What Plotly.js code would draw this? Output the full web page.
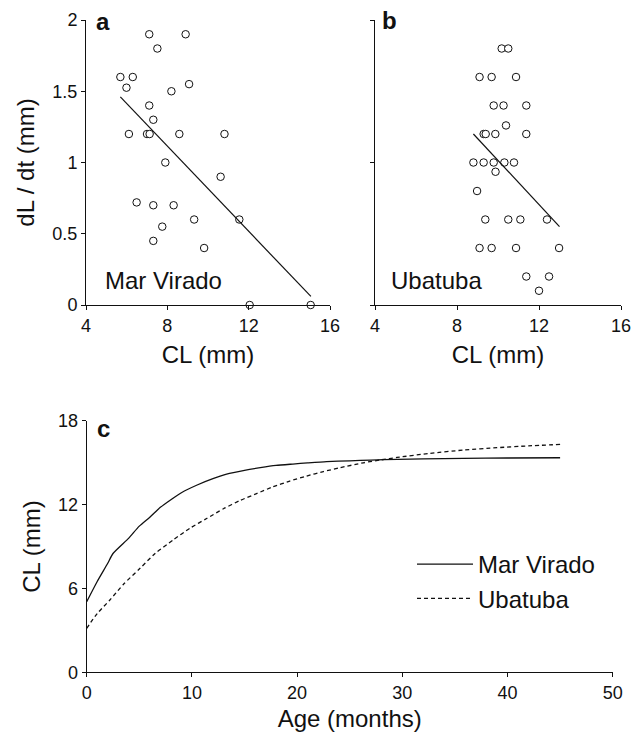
<!DOCTYPE html>
<html>
<head>
<meta charset="utf-8">
<script src="https://cdn.plot.ly/plotly-3.0.1.min.js"></script>
<style>html,body{margin:0;padding:0;background:#fff;}#chart{width:631px;height:736px;}</style>
</head>
<body>
<div id="chart"></div>
<script>
// Panel a: Mar Virado growth increments
const mvCL = [7.11, 8.90, 7.51, 5.69, 6.30, 5.99, 9.07, 8.20, 7.11, 7.31, 6.11, 7.00, 7.13, 8.59, 10.81, 7.90, 10.62, 6.49, 7.31, 8.31, 9.32, 11.54, 7.75, 7.31, 9.81, 12.05, 15.05];
const mvdLdt = [1.90, 1.90, 1.80, 1.60, 1.60, 1.525, 1.55, 1.50, 1.40, 1.30, 1.20, 1.20, 1.20, 1.20, 1.20, 1.00, 0.90, 0.72, 0.70, 0.70, 0.60, 0.60, 0.55, 0.45, 0.40, 0.00, 0.00];
const mvFitCL = [5.69, 15.06];
const mvFitdLdt = [1.46, 0.06];

// Panel b: Ubatuba growth increments
const ubCL = [10.18, 10.50, 9.10, 9.69, 10.88, 9.79, 10.27, 11.38, 10.39, 9.30, 9.40, 9.87, 11.38, 8.80, 9.30, 9.79, 10.31, 10.78, 9.88, 8.98, 9.38, 10.50, 11.09, 12.39, 9.10, 9.69, 10.88, 12.98, 11.38, 12.49, 12.00];
const ubdLdt = [1.80, 1.80, 1.60, 1.60, 1.60, 1.40, 1.40, 1.40, 1.26, 1.20, 1.20, 1.20, 1.20, 1.00, 1.00, 1.00, 1.00, 1.00, 0.935, 0.80, 0.60, 0.60, 0.60, 0.60, 0.40, 0.40, 0.40, 0.40, 0.20, 0.20, 0.10];
const ubFitCL = [8.80, 13.00];
const ubFitdLdt = [1.20, 0.55];

// Panel c: growth curves
const mvAge = [0, 1, 2, 2.5, 4, 5, 6, 7, 8, 9, 10.5, 12, 13.3, 15, 16.5, 18, 19.6, 21, 22.8, 25, 27, 29.5, 32, 35.8, 40, 45];
const mvLen = [5.05, 6.5, 7.8, 8.5, 9.6, 10.46, 11.1, 11.8, 12.35, 12.85, 13.4, 13.85, 14.18, 14.45, 14.64, 14.8, 14.9, 14.98, 15.07, 15.13, 15.18, 15.24, 15.27, 15.3, 15.33, 15.35];
const ubAge = [0, 1, 2.2, 3.5, 5.07, 6.5, 8.2, 9.8, 11.4, 13, 14.6, 16.2, 17.7, 19.3, 20.9, 22.5, 24.1, 26.3, 28, 29.5, 32.6, 35.8, 39, 42, 45];
const ubLen = [3.15, 4.2, 5.17, 6.3, 7.44, 8.5, 9.46, 10.3, 11.0, 11.7, 12.3, 12.8, 13.27, 13.68, 14.04, 14.36, 14.64, 14.99, 15.2, 15.37, 15.66, 15.9, 16.07, 16.2, 16.3];

const xTicksAB = [4, 8, 12, 16];
const yTicksA = [0, 0.5, 1, 1.5, 2];
const yTickTextA = ['0', '0.5', '1', '1.5', '2'];
const yTicksB = [0, 1, 2];
const xTicksC = [0, 10, 20, 30, 40, 50];
const yTicksC = [0, 6, 12, 18];

const FONT = '"Liberation Sans", Arial, Helvetica, sans-serif';
const INK = '#111';
const W = 631, H = 736;
const px = v => v / W;
const py = v => 1 - v / H;

const marker = {symbol: 'circle', size: 7.5, color: '#fff', line: {color: INK, width: 1}};

const traces = [
  {x: mvCL, y: mvdLdt, type: 'scatter', mode: 'markers', marker: marker, xaxis: 'x', yaxis: 'y', cliponaxis: false, showlegend: false},
  {x: mvFitCL, y: mvFitdLdt, type: 'scatter', mode: 'lines', line: {color: INK, width: 1.2}, xaxis: 'x', yaxis: 'y', showlegend: false},
  {x: ubCL, y: ubdLdt, type: 'scatter', mode: 'markers', marker: marker, xaxis: 'x2', yaxis: 'y2', cliponaxis: false, showlegend: false},
  {x: ubFitCL, y: ubFitdLdt, type: 'scatter', mode: 'lines', line: {color: INK, width: 1.2}, xaxis: 'x2', yaxis: 'y2', showlegend: false},
  {x: mvAge, y: mvLen, type: 'scatter', mode: 'lines', name: 'Mar Virado', line: {color: INK, width: 1.3, shape: 'spline', smoothing: 0.6}, xaxis: 'x3', yaxis: 'y3'},
  {x: ubAge, y: ubLen, type: 'scatter', mode: 'lines', name: 'Ubatuba', line: {color: INK, width: 1.3, dash: '4px,3px', shape: 'spline', smoothing: 0.6}, xaxis: 'x3', yaxis: 'y3'}
];

const axBase = {
  showgrid: false, zeroline: false, showline: true, linecolor: INK, linewidth: 1,
  ticks: 'outside', ticklen: 4, tickwidth: 1, tickcolor: INK, ticklabeloverflow: 'allow',
  tickfont: {family: FONT, size: 18, color: INK}, fixedrange: true
};
const titleFont = {family: FONT, size: 24, color: INK};

const layout = {
  width: W, height: H,
  margin: {l: 0, r: 0, t: 0, b: 0},
  paper_bgcolor: '#fff', plot_bgcolor: '#fff',
  font: {family: FONT, color: INK},
  xaxis: Object.assign({}, axBase, {domain: [px(86), px(330)], range: [4, 16], tickvals: xTicksAB, anchor: 'y',
    title: {text: 'CL (mm)', font: titleFont, standoff: 11}}),
  yaxis: Object.assign({}, axBase, {domain: [py(305), py(20)], range: [0, 2], tickvals: yTicksA, ticktext: yTickTextA, anchor: 'x',
    title: {text: 'dL / dt (mm)', font: titleFont, standoff: 10}}),
  xaxis2: Object.assign({}, axBase, {domain: [px(375), px(621)], range: [4, 16], tickvals: xTicksAB, anchor: 'y2',
    title: {text: 'CL (mm)', font: titleFont, standoff: 11}}),
  yaxis2: Object.assign({}, axBase, {domain: [py(305), py(20)], range: [0, 2], tickvals: yTicksB, showticklabels: false, anchor: 'x2'}),
  xaxis3: Object.assign({}, axBase, {domain: [px(86.7), px(612.7)], range: [0, 50], tickvals: xTicksC, anchor: 'y3',
    title: {text: 'Age (months)', font: titleFont, standoff: 8}}),
  yaxis3: Object.assign({}, axBase, {domain: [py(672.3), py(420.7)], range: [0, 18], tickvals: yTicksC, anchor: 'x3',
    title: {text: 'CL (mm)', font: titleFont, standoff: 10}}),
  showlegend: true,
  legend: {x: px(412), y: py(542), xanchor: 'left', yanchor: 'top', bgcolor: 'rgba(0,0,0,0)',
    font: {family: FONT, size: 24, color: INK}, itemwidth: 56, tracegroupgap: 0},
  annotations: [
    {text: '<b>a</b>', x: px(94), y: py(22), xref: 'paper', yref: 'paper', xanchor: 'left', yanchor: 'middle', showarrow: false, font: {family: FONT, size: 24, color: INK}},
    {text: '<b>b</b>', x: px(380), y: py(20), xref: 'paper', yref: 'paper', xanchor: 'left', yanchor: 'middle', showarrow: false, font: {family: FONT, size: 24, color: INK}},
    {text: '<b>c</b>', x: px(95), y: py(428), xref: 'paper', yref: 'paper', xanchor: 'left', yanchor: 'middle', showarrow: false, font: {family: FONT, size: 24, color: INK}},
    {text: 'Mar Virado', x: px(103), y: py(280), xref: 'paper', yref: 'paper', xanchor: 'left', yanchor: 'middle', showarrow: false, font: {family: FONT, size: 24, color: INK}},
    {text: 'Ubatuba', x: px(389), y: py(280), xref: 'paper', yref: 'paper', xanchor: 'left', yanchor: 'middle', showarrow: false, font: {family: FONT, size: 24, color: INK}}
  ]
};

Plotly.newPlot('chart', traces, layout, {displayModeBar: false, staticPlot: true});
</script>
</body>
</html>
